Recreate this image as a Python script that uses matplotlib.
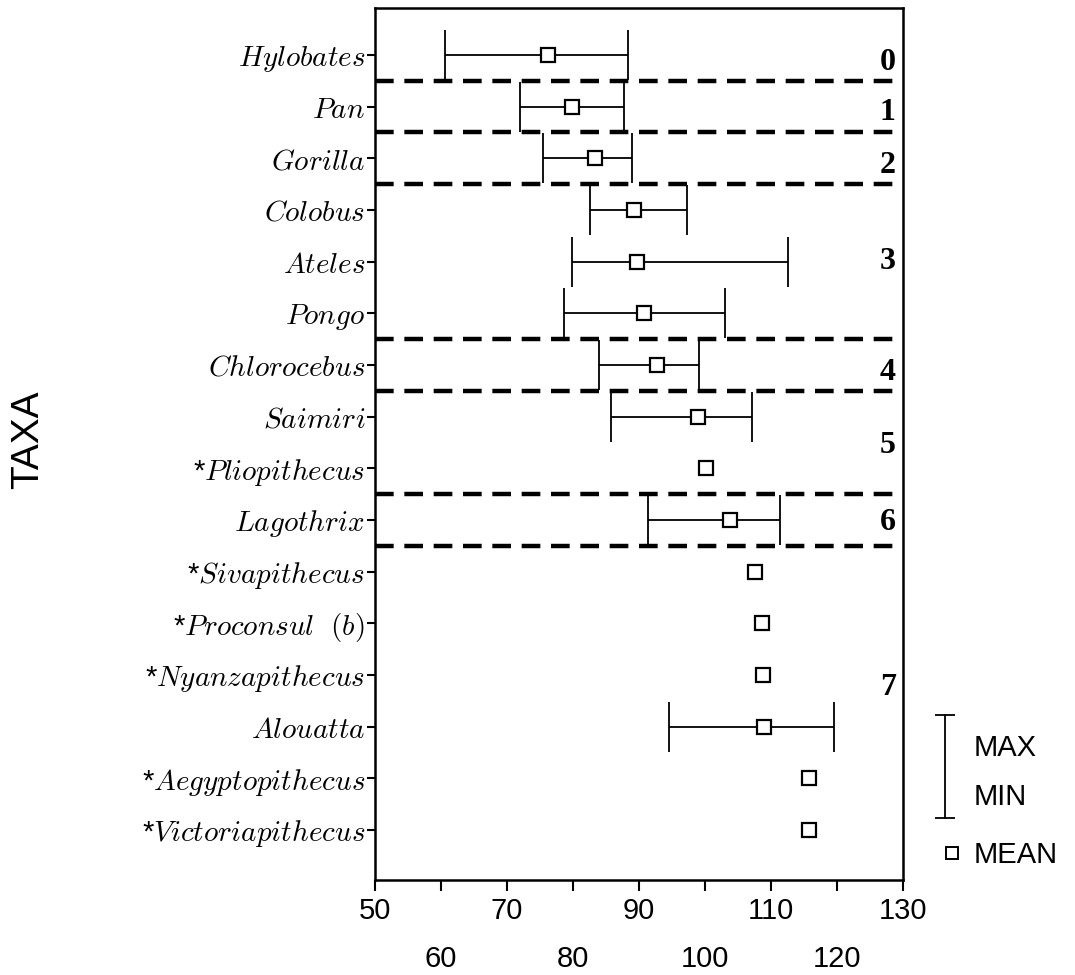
import matplotlib
matplotlib.use("Agg")
import matplotlib.pyplot as plt
import numpy as np

plt.rcParams['mathtext.fontset'] = 'cm'
plt.rcParams['font.family'] = ['Liberation Sans', 'DejaVu Sans']

taxa = [r"$Hylobates$", r"$Pan$", r"$Gorilla$", r"$Colobus$", r"$Ateles$", r"$Pongo$",
        r"$Chlorocebus$", r"$Saimiri$", r"*$Pliopithecus$", r"$Lagothrix$",
        r"*$Sivapithecus$", r"*$Proconsul\ \ (b)$", r"*$Nyanzapithecus$",
        r"$Alouatta$", r"*$Aegyptopithecus$", r"*$Victoriapithecus$"]
means = [76.2, 79.8, 83.4, 89.2, 89.7, 90.8, 92.8, 99.0, 100.2, 103.8,
         107.5, 108.6, 108.8, 108.9, 115.7, 115.8]
mins = [60.6, 71.9, 75.5, 82.5, 79.9, 78.7, 83.9, 85.8, None, 91.4,
        None, None, None, 94.6, None, None]
maxs = [88.4, 87.8, 89.0, 97.3, 112.6, 103.0, 99.1, 107.1, None, 111.3,
        None, None, None, 119.5, None, None]
group_labels = ["0", "1", "2", "3", "4", "5", "6", "7"]
group_label_rows = [0.15, 1.12, 2.13, 4.0, 6.14, 7.55, 9.04, 12.25]
group_boundaries = [0.5, 1.5, 2.5, 5.5, 6.5, 8.5, 9.5]
major_ticks = [50, 70, 90, 110, 130]
minor_ticks = [60, 80, 100, 120]

fig = plt.figure(figsize=(10.75, 9.75), dpi=100)
ax = fig.add_axes([375/1075, 1-880/975, 528/1075, 872/975])

rows = np.arange(len(taxa))

for r, lo, hi, m in zip(rows, mins, maxs, means):
    if lo is None:
        continue
    ax.errorbar([m], [r], xerr=[[m - lo], [hi - m]], fmt='none', ecolor='black',
                elinewidth=1.3, capsize=18, capthick=1.3, zorder=2)

ax.plot(means, rows, linestyle='none', marker='s', markersize=10,
        markerfacecolor='white', markeredgecolor='black', markeredgewidth=1.6, zorder=3)

for b in group_boundaries:
    ax.axhline(b, color='black', linewidth=3.2, linestyle=(0, (4.2, 2.4)), zorder=1)

for lab, gy in zip(group_labels, group_label_rows):
    ax.text(128.9, gy, lab, ha='right', va='center', fontsize=23, fontweight='bold',
            family='Liberation Serif')

ax.set_xlim(50, 130)
ax.set_ylim(len(taxa) - 0.03, -0.91)
ax.set_yticks(rows)
ax.set_yticklabels(taxa, fontsize=21)
ax.tick_params(axis='y', direction='out', length=6, width=1.5, pad=1)

ax.set_xticks(major_ticks)
ax.set_xticklabels([str(t) for t in major_ticks], fontsize=21)
ax.set_xticks(minor_ticks, minor=True)
ax.set_xticklabels([str(t) for t in minor_ticks], minor=True, fontsize=21)
ax.tick_params(axis='x', which='major', direction='out', length=8, width=1.5, pad=4)
ax.tick_params(axis='x', which='minor', direction='out', length=8, width=1.5, pad=39)

for s in ax.spines.values():
    s.set_linewidth(1.8)

fig.text(28/1075, 1-440/975, "TAXA", rotation=90, fontsize=28, ha='center', va='center')

lx = 136.4
ax.plot([lx, lx], [12.77, 14.77], color='black', lw=1.3, clip_on=False)
ax.plot([lx, lx], [12.77, 14.77], linestyle='none', marker='_', markersize=14,
        markeredgewidth=1.3, color='black', clip_on=False)
ax.plot([137.4], [15.44], linestyle='none', marker='s', markersize=9,
        markerfacecolor='white', markeredgecolor='black', markeredgewidth=1.4, clip_on=False)
ax.text(140.7, 13.41, "MAX", fontsize=21, ha='left', va='center', clip_on=False)
ax.text(140.7, 14.36, "MIN", fontsize=21, ha='left', va='center', clip_on=False)
ax.text(140.7, 15.48, "MEAN", fontsize=21, ha='left', va='center', clip_on=False)

fig.savefig("out.png", dpi=100)
